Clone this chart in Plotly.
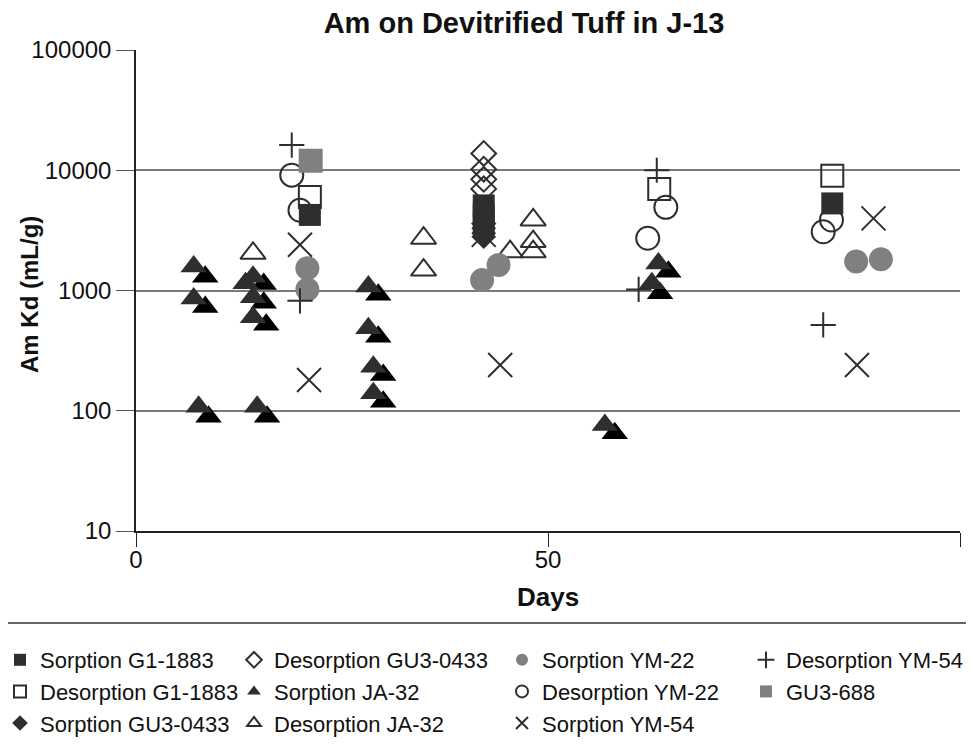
import plotly.graph_objects as go

# ---------------- data ----------------
s_g1_days = [21.1, 42.2, 42.2, 42.2, 84.5]
s_g1_kd = [4250, 5100, 4300, 3600, 5300]

d_g1_days = [21.1, 63.5, 84.5]
d_g1_kd = [6000, 7000, 9000]

s_gu3_days = [42.2, 42.2, 42.2]
s_gu3_kd = [3300, 3000, 2800]

d_gu3_days = [42.2, 42.2, 42.2, 42.2]
d_gu3_kd = [13800, 10200, 8400, 7000]

s_ja_days = [7.0, 7.0, 7.6, 13.3, 14.2, 14.2, 14.2, 14.7, 28.2, 28.2, 28.8, 28.8, 56.9, 63.4, 62.6]
s_ja_kd = [1580, 860, 108, 1150, 1300, 880, 600, 108, 1080, 486, 232, 140, 76, 1680, 1150]

s_ja_b_days = [8.4, 8.4, 8.8, 15.5, 15.5, 15.8, 15.9, 29.4, 29.4, 30.0, 30.0, 58.1, 64.6, 63.6]
s_ja_b_kd = [1300, 730, 89, 1130, 790, 520, 89, 920, 413, 198, 119, 65, 1430, 950]

d_ja_days = [14.2, 34.9, 34.9, 45.4, 48.2, 48.2, 48.2]
d_ja_kd = [2040, 2720, 1480, 2100, 3860, 2550, 2100]

s_ym22_days = [20.8, 20.8, 42.0, 44.0, 87.4, 90.4]
s_ym22_kd = [1530, 1020, 1220, 1630, 1740, 1820]

d_ym22_days = [18.9, 19.9, 64.3, 62.1, 84.4, 83.4]
d_ym22_kd = [9100, 4650, 4920, 2720, 3860, 3080]

s_ym54_days = [19.9, 21.0, 42.2, 44.2, 89.5, 87.5]
s_ym54_kd = [2400, 180, 2900, 240, 3980, 240]

d_ym54_days = [18.9, 19.9, 63.2, 61.0, 83.4]
d_ym54_kd = [16200, 820, 10000, 1020, 517]

gu3_688_days = [21.2]
gu3_688_kd = [12000]

y_tick_vals = [10, 100, 1000, 10000, 100000]
y_tick_text = ["10", "100", "1000", "10000", "100000"]
x_tick_vals = [0, 50, 100]
x_tick_text = ["0", "50", "100\u00a0\u00a0\u00a0"]

# ---------------- styling ----------------
W, H = 974, 746
OFF = 8  # page body margin of the browser (screen px = figure px + OFF)
SL, SR, ST, SB = 136, 960, 50, 531  # plot area in screen pixels
PL, PR, PT, PB = SL - OFF, SR - OFF, ST - OFF, SB - OFF  # in figure pixels
DARK = "#2e2e2e"
GRAY = "#808080"
FONT = "Liberation Sans, Arial, sans-serif"


def sx(px):  # screen x -> paper
    return (px - SL) / (SR - SL)


def sy(py):  # screen y -> paper
    return (SB - py) / (SB - ST)


fig = go.Figure()


def add(name, x, y, symbol, size, color, legend, open_=False, lw=2, show=True):
    if open_:
        marker = dict(symbol=symbol, size=size, color=color,
                      line=dict(color=color, width=lw))
    else:
        marker = dict(symbol=symbol, size=size, color=color,
                      line=dict(color=color, width=0))
    fig.add_trace(go.Scatter(x=x, y=y, mode="markers", name=name, marker=marker,
                             legend=legend, showlegend=show, cliponaxis=False))


# column 1
add("Sorption G1-1883", s_g1_days, s_g1_kd, "square", 22, DARK, "legend")
add("Desorption G1-1883", d_g1_days, d_g1_kd, "square-open", 22, DARK, "legend", True)
add("Sorption GU3-0433", s_gu3_days, s_gu3_kd, "diamond", 19, DARK, "legend")
# column 2
add("Desorption GU3-0433", d_gu3_days, d_gu3_kd, "diamond-open", 19, DARK, "legend2", True)
add("Sorption JA-32", s_ja_b_days, s_ja_b_kd, "triangle-up", 23, "#000000", "legend2", show=False)
add("Sorption JA-32", s_ja_days, s_ja_kd, "triangle-up", 23, DARK, "legend2")
add("Desorption JA-32", d_ja_days, d_ja_kd, "triangle-up-open", 22, DARK, "legend2", True)
# column 3
add("Sorption YM-22", s_ym22_days, s_ym22_kd, "circle", 24, GRAY, "legend3")
add("Desorption YM-22", d_ym22_days, d_ym22_kd, "circle-open", 23, DARK, "legend3", True)
add("Sorption YM-54", s_ym54_days, s_ym54_kd, "x-thin-open", 24, DARK, "legend3", True)
# column 4
add("Desorption YM-54", d_ym54_days, d_ym54_kd, "cross-thin-open", 18, DARK, "legend4", True)
add("GU3-688", gu3_688_days, gu3_688_kd, "square", 24, GRAY, "legend4")

leg_common = dict(bgcolor="rgba(0,0,0,0)", borderwidth=0, font=dict(family=FONT, size=22, color="#111"),
                  orientation="v", xanchor="left", yanchor="top", itemsizing="constant",
                  tracegroupgap=0, traceorder="normal")
leg_top = sy(639)

fig.update_layout(
    width=W, height=H,
    margin=dict(l=PL, r=W - PR, t=PT, b=H - PB, autoexpand=False),
    paper_bgcolor="white", plot_bgcolor="white",
    font=dict(family=FONT, color="#111"),
    showlegend=True,
    title=dict(text="<b>Am on Devitrified Tuff in J-13</b>", x=(524 - OFF) / W, xanchor="center",
               y=1 - 5 / H, yanchor="top", xref="container", yref="container",
               pad=dict(t=0, b=0, l=0, r=0),
               font=dict(family=FONT, size=29, color="#111")),
    legend=dict(x=sx(0), y=leg_top, **leg_common),
    legend2=dict(x=sx(234), y=leg_top, **leg_common),
    legend3=dict(x=sx(502), y=leg_top, **leg_common),
    legend4=dict(x=sx(746), y=leg_top, **leg_common),
    xaxis=dict(range=[0, 100], tickvals=x_tick_vals, ticktext=x_tick_text,
               showgrid=False, zeroline=False, showline=True, linecolor="#222", linewidth=1.5,
               ticks="outside", ticklen=14, tickcolor="#222", tickwidth=1.2,
               ticklabelstandoff=-8,
               tickfont=dict(family=FONT, size=24, color="#111")),
    yaxis=dict(type="log", range=[1, 5], tickvals=y_tick_vals, ticktext=y_tick_text,
               showgrid=True, gridcolor="#7a7a7a", gridwidth=1.6,
               zeroline=False, showline=True, linecolor="#222", linewidth=1.5,
               ticks="outside", ticklen=18, tickcolor="#555", tickwidth=1.2,
               tickfont=dict(family=FONT, size=24, color="#111")),
)

# axis titles
fig.add_annotation(text="<b>Days</b>", xref="paper", yref="paper", x=sx(548), y=sy(597),
                   xanchor="center", yanchor="middle", showarrow=False,
                   font=dict(family=FONT, size=26, color="#111"))
fig.add_annotation(text="<b>Am Kd (mL/g)</b>", xref="paper", yref="paper", x=sx(29), y=sy(295),
                   xanchor="center", yanchor="middle", showarrow=False, textangle=-90,
                   font=dict(family=FONT, size=24, color="#111"))

# legend frame (its right and bottom sides run past the picture edge, as in the reference)
fig.add_shape(type="rect", xref="paper", yref="paper",
              x0=sx(3), x1=sx(990), y0=sy(623), y1=sy(770),
              line=dict(color="#333", width=1.5), fillcolor="rgba(0,0,0,0)", layer="below")

fig.write_html("out.html")
